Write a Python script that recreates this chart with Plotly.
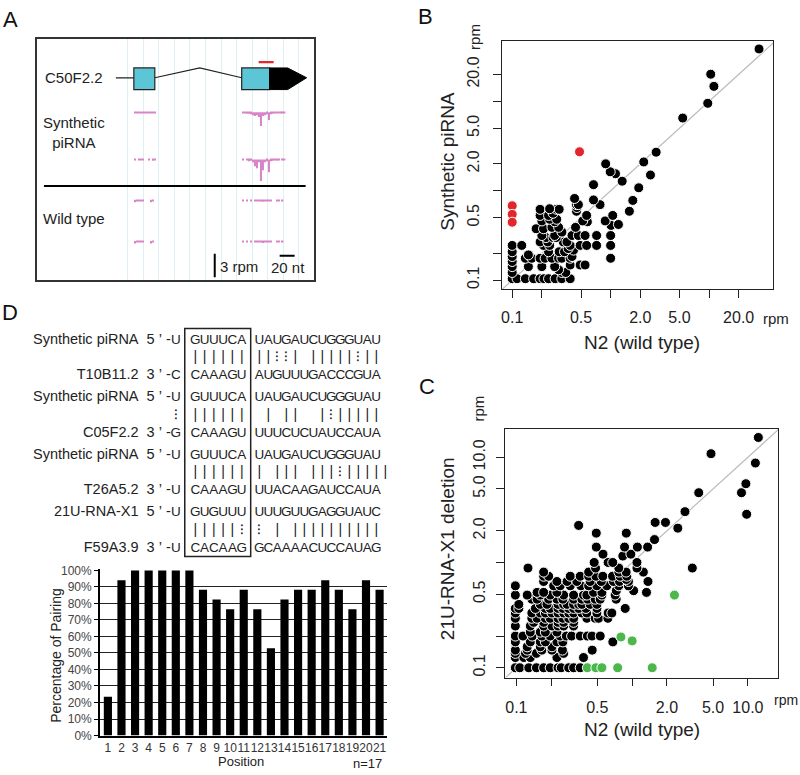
import plotly.graph_objects as go

W, H = 800, 775
FONT = "Liberation Sans, Arial, sans-serif"

# =============================================================================
# DATA
# =============================================================================

# --- Panel B: synthetic piRNA strain vs N2 (rpm), points grouped by y level
b_levels = [0.104, 0.122, 0.131, 0.142, 0.148, 0.162, 0.176, 0.184, 0.192, 0.208,
            0.217, 0.226, 0.245, 0.268, 0.3, 0.316, 0.345, 0.376, 0.39, 0.41,
            0.42, 0.45, 0.46, 0.48, 0.53, 0.56, 0.59, 0.62, 0.63, 0.65,
            0.7, 0.78, 0.79, 0.82, 1.08, 1.17, 1.28, 1.5, 1.55, 1.63,
            2.0, 2.1, 2.7, 6.5, 9.5, 14.7, 20.1, 38.5]
b_n2_rows = [
    [0.1, 0.112, 0.136, 0.165, 0.192, 0.21, 0.234, 0.273, 0.319, 0.388],
    [0.1, 0.319, 0.35], [0.296], [0.1, 0.146, 0.2, 0.27], [0.388, 0.49, 0.55],
    [0.1], [0.136, 0.158, 0.192, 0.216, 0.253, 0.296, 0.319, 0.388, 1.0],
    [0.1, 0.405], [0.146], [0.1, 0.234, 0.3, 0.34], [0.42], [0.37],
    [0.1, 0.125, 0.208, 0.24, 0.388, 0.49, 0.57, 0.72, 1.0],
    [0.192, 0.23, 0.33, 0.36], [0.22, 0.26, 0.28],
    [0.2, 0.27, 0.405, 0.47, 0.55, 0.72, 1.0], [0.32], [0.175, 0.208],
    [0.253, 0.296, 0.44], [1.01], [1.2], [0.27, 0.58], [0.2, 0.52, 0.88],
    [0.24, 0.283], [0.192, 0.234, 0.57, 1.05], [0.26], [0.45, 1.55],
    [0.192, 0.283, 0.3], [0.24], [0.454], [0.45, 0.47, 0.78], [1.68], [0.67],
    [0.43], [1.93], [0.67], [1.31], [2.54], [1.12], [0.99],
    [0.89], [2.17], [2.9], [5.4], [9.7], [11.2], [10.4], [32.2],
]
b_red_n2 = [0.1, 0.1, 0.1, 0.483]
b_red_syn = [0.68, 0.545, 0.445, 2.73]

# --- Panel C: 21U-RNA-X1 deletion vs N2 (rpm)
c_levels = [0.1, 0.125, 0.137, 0.147, 0.158, 0.176, 0.2, 0.218, 0.249, 0.27,
            0.295, 0.331, 0.366, 0.40, 0.448, 0.49, 0.52, 0.54, 0.60, 0.66,
            0.69, 0.74, 0.81, 0.885, 1.0, 1.15, 1.2, 1.4, 1.65, 1.9,
            2.12, 2.25, 2.4, 2.87, 3.04, 4.6, 5.6, 8.8, 10.8, 15.4]
c_n2_rows = [
    [0.098, 0.107, 0.128, 0.149, 0.172, 0.196, 0.229, 0.244, 0.283, 0.312, 0.356],
    [0.098, 0.116, 0.132, 0.224, 0.38],
    [0.098, 0.12, 0.149, 0.256],
    [0.098, 0.124, 0.166, 0.203, 0.25, 0.452],
    [0.124, 0.161, 0.203],
    [0.098, 0.132, 0.161, 0.178, 0.224, 0.252, 0.681],
    [0.098, 0.114, 0.137, 0.166, 0.196, 0.239, 0.27, 0.3, 0.356, 0.41, 0.45, 0.53],
    [0.132, 0.161, 0.178, 0.224],
    [0.098, 0.132, 0.172, 0.203, 0.229, 0.256, 0.312],
    [0.141, 0.172, 0.229, 0.256, 0.312],
    [0.098, 0.136, 0.151, 0.178, 0.196, 0.229, 0.252, 0.283, 0.312, 0.406, 0.48, 0.513, 0.617],
    [0.098, 0.136, 0.161, 0.178, 0.203, 0.229, 0.256, 0.283, 0.312, 0.368, 0.406, 0.496, 0.62, 0.668],
    [0.098, 0.105, 0.146, 0.178, 0.196, 0.229, 0.252, 0.283, 0.312, 0.345, 0.399, 0.496, 0.871],
    [0.105, 0.161, 0.184, 0.229, 0.256, 0.274, 0.312, 0.345, 0.368, 0.434, 0.496],
    [0.136, 0.151, 0.19, 0.224, 0.252, 0.312, 0.368, 0.412, 0.48, 0.53, 0.728],
    [0.098, 0.124, 0.161, 0.196, 0.256, 0.312, 0.38, 0.406, 0.548, 0.713],
    [0.151, 0.172, 0.224, 0.464, 0.548, 1.33],
    [0.73, 1.03],
    [0.098, 0.21, 0.239, 0.292, 0.361, 0.421, 0.496, 0.605, 0.767, 0.929],
    [0.172, 0.224, 0.274, 0.333, 0.434, 0.541, 0.69, 0.778, 0.929, 1.37],
    [0.89],
    [0.172, 0.19, 0.292, 0.356, 0.421, 0.486, 0.558, 0.677, 0.788, 0.899],
    [0.172, 0.421, 0.767, 0.887, 1.25],
    [0.126, 0.483, 0.767, 1.1, 3.31],
    [0.47, 0.62, 0.68, 1.1],
    [0.83], [0.56, 0.975], [0.49, 0.86, 1.11, 1.36], [1.56], [0.49, 0.89],
    [2.48], [0.345], [1.58, 1.94], [9.75], [2.86], [3.76, 8.8], [9.6], [11.6], [4.8], [12.3],
]
c_green_n2 = [0.41, 0.486, 0.548, 0.75, 1.49, 0.80, 1.0, 2.32]
c_green_del = [0.1, 0.1, 0.1, 0.1, 0.1, 0.196, 0.18, 0.49]

log_ticks_b = [0.1, 0.2, 0.5, 1, 2, 5, 10, 20]
log_text_b = ["0.1", "", "0.5", "", "2.0", "5.0", "", "20.0"]
log_ticks_c = [0.1, 0.2, 0.5, 1, 2, 5, 10]
log_text_c = ["0.1", "", "0.5", "", "2.0", "5.0", "10.0"]

# --- Panel D: percentage of pairing per position (n=17)
positions = list(range(1, 22))
pct_pairing = [23.5, 94.1, 100, 100, 100, 100, 100, 88.2, 82.4, 76.5, 88.2,
               76.5, 52.9, 82.4, 88.2, 88.2, 94.1, 88.2, 76.5, 94.1, 88.2]
pct_ticks = list(range(0, 101, 10))

# alignments: pairing "|" = Watson-Crick, ":" = G:U
NB = "\u00a0"
align_top_labels = [f"Synthetic piRNA{NB}{NB}5{NB}’{NB}-"] * 3 + [f"21U-RNA-X1{NB}{NB}5{NB}’{NB}-"]
align_top_seqs = ["UGUUUCAUAUGAUCUGGGUAU", "UGUUUCAUAUGAUCUGGGUAU",
                  "UGUUUCAUAUGAUCUGGGUAU", "UGUGUUUUUUGUUGAGGUAUC"]
align_pairs = [" ||||||||::| |||||:||", ":|||||| | ||  |:|||||",
               " ||||||| ||| |||:|||||", " |||||:: | ||||||||||"]
align_bot_labels = [f"{n}{NB}{NB}3{NB}’{NB}-" for n in ["T10B11.2", "C05F2.2", "T26A5.2", "F59A3.9"]]
align_bot_seqs = ["CCAAAGUAUGUUUGACCCGUA", "GCAAAGUUUUCUCUAUCCAUA",
                  "UCAAAGUUUACAAGAUCCAUA", "UCACAAGGCAAAACUCCAUAG"]

# --- Panel A: gene model and small RNA coverage (track units)
exon_x0 = [133, 241]
exon_x1 = [154, 269]
utr_x = [269, 287, 306]
target_bar = [258, 273]
cov_pos = [134, 136, 138, 140, 142, 144, 146, 148, 150, 152, 154,
           242, 244, 246, 248, 250, 252, 254, 256, 258, 260, 262,
           264, 266, 268, 270, 272, 274, 276, 278, 280, 282, 284]
track_base = [108, 156, 197, 239]
track_depth = [
    [1.2, 1.2, 1.0, 1.2, 1.2, 1.0, 1.2, 1.2, 1.0, 1.2, 1.2,
     1.0, 1.2, 1.5, 1.5, 2, 3, 4, 3, 5, 14, 4, 3, 2, 8, 2, 1.5, 1.2, 1.2, 1.0, 1.2, 1.2, 1.0],
    [1.2, 0, 1.0, 1.0, 1.0, 0, 0, 1.2, 0, 1.5, 1.2,
     1.0, 0, 1.0, 2, 1.5, 3, 7, 9, 3, 22, 11, 3, 2, 13, 2, 1.5, 1.0, 1.5, 1.0, 0, 1.0, 1.0],
    [2.5, 1.0, 1.0, 1.0, 1.0, 0, 0, 0, 2.5, 1.0, 0,
     1.0, 0, 1.0, 0, 1.0, 0, 1.5, 1.0, 1.5, 1.0, 2, 1.0, 1.0, 1.5, 1.0, 0, 0, 1.0, 1.5, 0, 1.0, 0],
    [2.5, 1.0, 1.0, 1.0, 1.0, 0, 0, 0, 2.5, 1.0, 0,
     1.0, 0, 1.0, 0, 1.0, 0, 1.0, 1.0, 1.5, 1.5, 2, 1.0, 1.0, 1.5, 1.0, 0, 0, 1.0, 1.5, 0, 1.0, 0],
]


def flatten(levels, rows):
    xs, ys = [], []
    for lv, row in zip(levels, rows):
        xs += row
        ys += [lv] * len(row)
    return xs, ys


def px(x):
    return x / W


def py(y):
    return 1 - y / H


b_n2, b_syn = flatten(b_levels, b_n2_rows)
c_n2, c_del = flatten(c_levels, c_n2_rows)

fig = go.Figure()

dot = dict(color="black", size=10, line=dict(color="white", width=1))
diag = [0.01, 100]

# ---- B
fig.add_trace(go.Scatter(x=diag, y=diag, mode="lines", line=dict(color="#bbbbbb", width=1.2),
                         xaxis="x", yaxis="y", hoverinfo="skip"))
fig.add_trace(go.Scatter(x=b_n2, y=b_syn, mode="markers", marker=dot, xaxis="x", yaxis="y"))
fig.add_trace(go.Scatter(x=b_red_n2, y=b_red_syn, mode="markers",
                         marker=dict(dot, color="#e3262b"), xaxis="x", yaxis="y"))

# ---- C
fig.add_trace(go.Scatter(x=diag, y=diag, mode="lines", line=dict(color="#bbbbbb", width=1.2),
                         xaxis="x2", yaxis="y2", hoverinfo="skip"))
fig.add_trace(go.Scatter(x=c_n2, y=c_del, mode="markers", marker=dot, xaxis="x2", yaxis="y2"))
fig.add_trace(go.Scatter(x=c_green_n2, y=c_green_del, mode="markers",
                         marker=dict(dot, color="#4cb84c"), xaxis="x2", yaxis="y2"))

# ---- D bars
fig.add_trace(go.Bar(x=positions, y=pct_pairing, marker=dict(color="black", line_width=0),
                     width=0.6, xaxis="x3", yaxis="y3"))


# ---- D alignment text
def nt_x(i):
    if i == 0:
        return 175
    if i <= 6:
        return 194.5 + (i - 1) * 9.3
    return 258.7 + (i - 7) * 9.0


seq_x, seq_y, seq_t = [], [], []
pair_x, pair_y, pair_t = [], [], []
lab_y, lab_t = [], []
for g in range(4):
    y0 = 340 + g * 58.5
    for row, yy in ((align_top_seqs[g], y0), (align_bot_seqs[g], y0 + 36)):
        for i, ch in enumerate(row):
            seq_x.append(nt_x(i)); seq_y.append(yy); seq_t.append(ch)
    for i, ch in enumerate(align_pairs[g]):
        if ch != " ":
            pair_x.append(nt_x(i)); pair_y.append(y0 + 17.5)
            pair_t.append("|" if ch == "|" else "⁝")
    lab_y += [y0, y0 + 36]
    lab_t += [align_top_labels[g], align_bot_labels[g]]

fig.add_trace(go.Scatter(x=seq_x, y=seq_y, text=seq_t, mode="text",
                         textfont=dict(size=13.5, color="#222", family=FONT),
                         xaxis="x4", yaxis="y4"))
fig.add_trace(go.Scatter(x=pair_x, y=pair_y, text=pair_t, mode="text",
                         textfont=dict(size=14, color="#222", family=FONT),
                         xaxis="x4", yaxis="y4"))
fig.add_trace(go.Scatter(x=[170] * len(lab_y), y=lab_y, text=lab_t, mode="text",
                         textposition="middle left",
                         textfont=dict(size=14.5, color="#222", family=FONT),
                         xaxis="x4", yaxis="y4"))

# ---- A coverage tracks
for base, depth in zip(track_base, track_depth):
    fig.add_trace(go.Bar(x=cov_pos, y=depth, base=base, width=1.4,
                         marker=dict(color="#d783c6", line_width=0),
                         xaxis="x5", yaxis="y5"))


# =============================================================================
# AXES
# =============================================================================
def log_axis(x0, x1, rng, ticks, text, anchor, **kw):
    ax = dict(type="log", domain=[x0, x1], range=rng, tickvals=ticks, ticktext=text,
              ticks="outside", ticklen=8, tickwidth=1.2, tickcolor="#222",
              showline=True, linecolor="#222", linewidth=1.3, mirror=True,
              showgrid=False, zeroline=False, anchor=anchor,
              tickfont=dict(size=16, color="#222", family=FONT))
    ax.update(kw)
    return ax


grid_a = [126.7 + 15.6 * k for k in range(12)]

layout_axes = dict(
    xaxis=log_axis(px(502), px(773), [-1.10, 1.65], log_ticks_b, log_text_b, "y",
                   tickangle=0, ticklabelstandoff=5),
    yaxis=log_axis(py(288), py(36), [-1.10, 1.67], log_ticks_b, log_text_b, "x",
                   tickangle=-90, ticklabelstandoff=8),
    xaxis2=log_axis(px(505), px(778), [-1.095, 1.26], log_ticks_c, log_text_c, "y2",
                    tickangle=0, ticklen=7, ticklabelstandoff=8),
    yaxis2=log_axis(py(683), py(430), [-1.093, 1.27], log_ticks_c, log_text_c, "x2",
                    tickangle=-90, ticklabelstandoff=5),
    xaxis3=dict(domain=[px(99), px(386)], range=[0.41, 21.51], tickvals=positions,
                tickangle=0, ticks="", showline=True, linecolor="black", linewidth=1.5,
                showgrid=False, zeroline=False, anchor="y3",
                tickfont=dict(size=12, color="#333", family=FONT)),
    yaxis3=dict(domain=[py(742), py(573)], range=[0, 100.6], tickvals=pct_ticks,
                ticktext=[f"{v}%" for v in pct_ticks], ticks="outside", ticklen=4,
                tickcolor="black", showline=True, linecolor="black", linewidth=1.5,
                showgrid=True, gridcolor="#222", gridwidth=1.1, zeroline=False,
                anchor="x3", tickfont=dict(size=12, color="#444", family=FONT)),
    xaxis4=dict(domain=[0, 0.5], range=[0, 400], visible=False, anchor="y4"),
    yaxis4=dict(domain=[py(568), py(318)], range=[568, 318], visible=False, anchor="x4"),
    xaxis5=dict(domain=[px(36), px(313)], range=[36, 313], tickvals=grid_a,
                showticklabels=False, ticks="", showgrid=True, gridcolor="#dcf1f4",
                gridwidth=1, showline=True, linecolor="#333", linewidth=1.5, mirror=True,
                zeroline=False, anchor="y5"),
    yaxis5=dict(domain=[py(279), py(34)], range=[279, 34], showticklabels=False,
                ticks="", showgrid=False, showline=True, linecolor="#333",
                linewidth=1.5, mirror=True, zeroline=False, anchor="x5"),
)

# =============================================================================
# SHAPES (gene model, seed box)
# =============================================================================
shapes = []
a_ref = dict(xref="x5", yref="y5")
shapes.append(dict(type="line", x0=115, x1=exon_x0[0], y0=73, y1=73,
                   line=dict(color="#222", width=1.2), **a_ref))
shapes.append(dict(type="path", path=f"M {exon_x1[0]},73 L 199,63 L {exon_x0[1]},73",
                   line=dict(color="#222", width=1.2), **a_ref))
for e0, e1 in zip(exon_x0, exon_x1):
    shapes.append(dict(type="rect", x0=e0, x1=e1, y0=63, y1=85, fillcolor="#5cc6d6",
                       line=dict(color="#222", width=1.2), **a_ref))
shapes.append(dict(type="path",
                   path=f"M {utr_x[0]},63 L {utr_x[1]},63 L {utr_x[2]},73 L {utr_x[1]},85 L {utr_x[0]},85 Z",
                   fillcolor="black", line=dict(color="black", width=1), **a_ref))
shapes.append(dict(type="line", x0=target_bar[0], x1=target_bar[1], y0=57, y1=57,
                   line=dict(color="#e8262b", width=2.2), **a_ref))
shapes.append(dict(type="line", x0=43, x1=305, y0=183, y1=183,
                   line=dict(color="black", width=2), **a_ref))
shapes.append(dict(type="line", x0=214, x1=214, y0=252, y1=276,
                   line=dict(color="black", width=2), **a_ref))
shapes.append(dict(type="line", x0=279, x1=294, y0=254, y1=254,
                   line=dict(color="black", width=2), **a_ref))
shapes.append(dict(type="rect", x0=184, x1=250, y0=328, y1=560, xref="x4", yref="y4",
                   line=dict(color="#222", width=1.5)))


# =============================================================================
# TEXT
# =============================================================================
def note(x, y, text, size=15, angle=0, xanchor="center", color="#222"):
    return dict(x=px(x), y=py(y), xref="paper", yref="paper", text=text,
                showarrow=False, textangle=angle, xanchor=xanchor, yanchor="middle",
                font=dict(size=size, color=color, family=FONT))


annotations = [
    note(10, 14, "A", 22, color="#111"), note(425, 11, "B", 22, color="#111"),
    note(427, 387, "C", 22, color="#111"), note(9, 312, "D", 22, color="#111"),
    note(104, 73, "C50F2.2", 15, xanchor="right"),
    note(73, 129, "Synthetic<br>piRNA", 15),
    note(73, 216, "Wild type", 15),
    note(217, 265, "3 rpm", 15, xanchor="left"),
    note(287, 266, "20 nt", 15),
    note(447, 158, "Synthetic piRNA", 19, -90),
    note(642, 342, "N2 (wild type)", 19),
    note(776, 318, "rpm", 15), note(474, 31, "rpm", 15, -90),
    note(447, 552, "21U-RNA-X1 deletion", 19, -90),
    note(642, 736, "N2 (wild type)", 19),
    note(786, 706, "rpm", 14), note(478, 409, "rpm", 15, -90),
    note(55, 660, "Percentage of Pairing", 14, -90),
    note(240, 768, "Position", 13),
    note(367, 770, "n=17", 13),
]

fig.update_layout(
    width=W, height=H, margin=dict(l=0, r=0, t=0, b=0),
    paper_bgcolor="white", plot_bgcolor="white",
    showlegend=False, barmode="overlay",
    font=dict(family=FONT, color="#222"),
    shapes=shapes, annotations=annotations,
    **layout_axes,
)

# the page body has a default 8px margin; remove it so the figure sits at 0,0
fig.write_html("out.html", config={"displayModeBar": False},
               post_script="document.body.style.margin='0';")
